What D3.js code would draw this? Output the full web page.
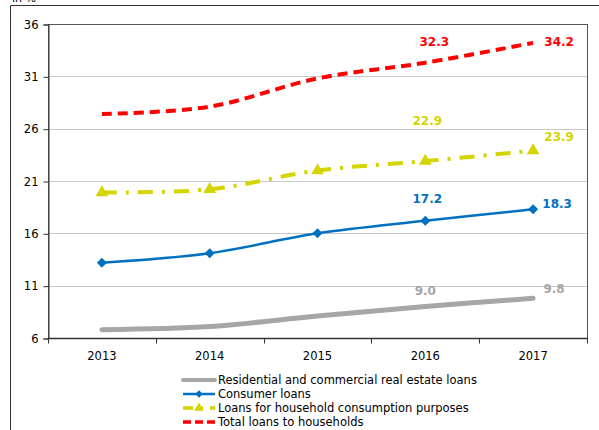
<!DOCTYPE html>
<html><head><meta charset="utf-8">
<script src="https://cdn.jsdelivr.net/npm/d3@7"></script>
<style>body{margin:0;background:#fff}svg{display:block}text{font-family:"DejaVu Sans",Verdana,sans-serif}</style>
</head><body>
<svg id="c" width="599" height="430"></svg>
<script>
const years = ["2013","2014","2015","2016","2017"];
const yTicks = [6, 11, 16, 21, 26, 31, 36];
const realEstate = [6.8, 7.1, 8.1, 9.0, 9.8];
const consumer = [13.2, 14.1, 16.0, 17.2, 18.3];
const consumption = [19.9, 20.2, 22.0, 22.9, 23.9];
const total = [27.4, 28.1, 30.8, 32.3, 34.2];
const seriesNames = ["Residential and commercial real estate loans","Consumer loans","Loans for household consumption purposes","Total loans to households"];
const labelledIdx = [3, 4];

const svg = d3.select("#c");
const L = 48, R = 587, T = 24, B = 338;
const x = d3.scaleBand().domain(years).range([L, R]);
const y = d3.scaleLinear().domain([6, 36]).range([B, T]);
const cx = d => x(d) + x.bandwidth() / 2;

// outer frame
svg.append("path").attr("d", `M10.5,430 V5.5 H599`).attr("fill","none").attr("stroke","#333").attr("stroke-width",1);
svg.append("text").attr("x",12).attr("y",2).attr("font-size",11).text("in %");

// gridlines
svg.append("g").selectAll("line").data(yTicks.slice(1, -1)).join("line")
  .attr("x1", L).attr("x2", R).attr("y1", d => Math.round(y(d)) + 0.5).attr("y2", d => Math.round(y(d)) + 0.5)
  .attr("stroke", "#c8c8c8").attr("stroke-width", 1.2);

// plot border
svg.append("rect").attr("x", L + 0.5).attr("y", T + 0.5).attr("width", R - L).attr("height", B - T)
  .attr("fill", "none").attr("stroke", "#555").attr("stroke-width", 1);

// y axis
const ya = svg.append("g").attr("transform", `translate(${L + 0.5},0.5)`)
  .call(d3.axisLeft(y).tickValues(yTicks).tickSize(5).tickPadding(5));
ya.select(".domain").attr("stroke", "#333");
ya.selectAll(".tick line").attr("stroke", "#333");
ya.selectAll("text").attr("font-size", 11.5).attr("fill", "#000").attr("font-family", '"DejaVu Sans",Verdana,sans-serif');

// x axis with ticks at band boundaries
const xa = svg.append("g").attr("transform", `translate(0,${B + 0.5})`);
xa.append("line").attr("x1", L).attr("x2", R + 1).attr("stroke", "#333").attr("stroke-width", 1.5);
const bounds = years.map(d => x(d)).concat([R]);
xa.selectAll("line.t").data(bounds).join("line").attr("class", "t")
  .attr("x1", d => Math.round(d) + 0.5).attr("x2", d => Math.round(d) + 0.5).attr("y1", 0).attr("y2", 5).attr("stroke", "#333");
xa.selectAll("text").data(years).join("text")
  .attr("x", d => cx(d)).attr("y", 21).attr("text-anchor", "middle").attr("font-size", 11.5).text(d => d);

const line = d3.line().x((d, i) => cx(years[i])).y(d => y(d)).curve(d3.curveCatmullRom.alpha(0.5));

const styles = [
  {data: realEstate, color: "#a6a6a6", w: 5, dash: null, marker: null, lbl: "#a6a6a6", off: [[0,-15],[21,-9]]},
  {data: consumer, color: "#0070c0", w: 2.5, dash: null, marker: "diamond", lbl: "#0070c0", off: [[2,-21],[24,-5]]},
  {data: consumption, color: "#d4d400", w: 4, dash: "15,9,3,9", marker: "triangle", lbl: "#d4d400", off: [[2,-40],[26,-13]]},
  {data: total, color: "#ff0000", w: 4, dash: "10,6", marker: null, lbl: "#ff0000", off: [[9,-20],[26,0]]}
];

function markerPath(type, big) {
  if (type === "diamond") return d3.symbol().type(d3.symbolSquare).size(big ? 50 : 28)();
  return d3.symbol().type(d3.symbolTriangle).size(big ? 70 : 40)();
}

styles.forEach(s => {
  svg.append("path").datum(s.data).attr("d", line).attr("fill", "none")
    .attr("stroke", s.color).attr("stroke-width", s.w).attr("stroke-dasharray", s.dash)
    .attr("stroke-linecap", s.w >= 5 ? "round" : "butt");
  if (s.marker) {
    svg.append("g").selectAll("path").data(s.data).join("path")
      .attr("transform", (d, i) => `translate(${cx(years[i])},${y(d)})` + (s.marker === "diamond" ? " rotate(45)" : ""))
      .attr("d", markerPath(s.marker, true)).attr("fill", s.color);
  }
  svg.append("g").selectAll("text").data(labelledIdx).join("text")
    .attr("x", (k, j) => cx(years[k]) + s.off[j][0]).attr("y", (k, j) => y(s.data[k]) + s.off[j][1])
    .attr("text-anchor", "middle").attr("dominant-baseline", "middle")
    .attr("font-size", 12).attr("font-weight", "bold").attr("fill", s.lbl)
    .text(k => s.data[k].toFixed(1));
});

// legend
const lg = svg.append("g");
const rowsY = [380, 394, 408, 422];
seriesNames.forEach((n, i) => {
  const s = styles[i];
  const g = lg.append("g").attr("transform", `translate(0,${rowsY[i]})`);
  g.append("line").attr("x1", 183).attr("x2", 215).attr("stroke", s.color).attr("stroke-width", s.w >= 5 ? 4 : (s.w < 3 ? 2.5 : 3.5))
    .attr("stroke-dasharray", i === 3 ? "8,4" : (i === 2 ? "10,7,3,7" : null)).attr("stroke-linecap", i===0?"round":"butt");
  if (s.marker) {
    g.append("path").attr("transform", "translate(199,0)" + (s.marker === "diamond" ? " rotate(45)" : ""))
      .attr("d", markerPath(s.marker, false)).attr("fill", s.color);
  }
  g.append("text").attr("x", 218).attr("y", 0).attr("dominant-baseline", "middle").attr("font-size", 11.5).attr("fill","#000").text(n);
});
</script>
</body></html>
